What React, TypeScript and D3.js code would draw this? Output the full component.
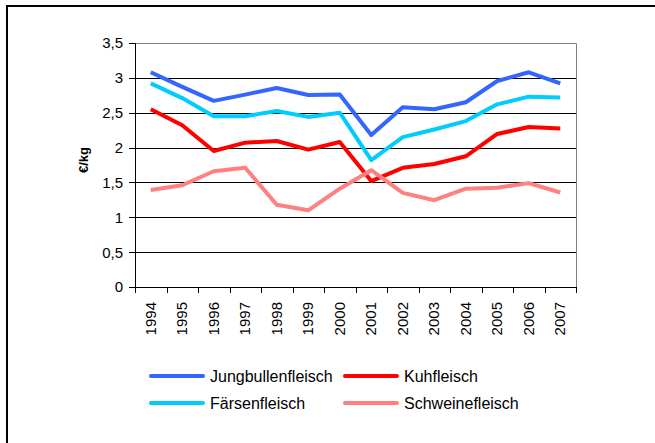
import React from 'react';
import * as d3 from 'd3';

const years = ['1994', '1995', '1996', '1997', '1998', '1999', '2000', '2001', '2002', '2003', '2004', '2005', '2006', '2007'];
const jungbullen = [3.08, 2.87, 2.67, 2.76, 2.855, 2.755, 2.76, 2.18, 2.58, 2.55, 2.65, 2.955, 3.08, 2.92];
const faersen = [2.92, 2.71, 2.45, 2.45, 2.525, 2.44, 2.5, 1.82, 2.15, 2.26, 2.38, 2.62, 2.73, 2.72];
const kuh = [2.55, 2.32, 1.95, 2.07, 2.095, 1.97, 2.08, 1.52, 1.71, 1.765, 1.875, 2.195, 2.295, 2.275];
const schwein = [1.39, 1.46, 1.66, 1.71, 1.18, 1.1, 1.41, 1.675, 1.35, 1.245, 1.41, 1.425, 1.49, 1.355];
const yTicks = [0, 0.5, 1, 1.5, 2, 2.5, 3, 3.5];

const series = [
  { name: 'Jungbullenfleisch', values: jungbullen, color: '#3366FF' },
  { name: 'Kuhfleisch', values: kuh, color: '#FF0000' },
  { name: 'Färsenfleisch', values: faersen, color: '#00CCFF' },
  { name: 'Schweinefleisch', values: schwein, color: '#FF8080' },
];

const W = 655, H = 443;
const left = 135, right = 576, top = 43, bottom = 287;
const font = 'Arial, "Liberation Sans", sans-serif';

const fmt = (v: number) => String(v).replace('.', ',');

export default function App() {
  const x = d3.scaleBand().domain(years).range([left, right]);
  const y = d3.scaleLinear().domain([0, 3.5]).range([bottom, top]);
  const line = d3.line<number>()
    .x((_, i) => (x(years[i]) as number) + x.bandwidth() / 2)
    .y(d => y(d));

  return (
    <svg width={W} height={H} style={{ position: 'absolute', left: 0, top: 0, background: '#fff' }} fontFamily={font}>
      <path d={`M7,${H} V6 H${W}`} fill="none" stroke="#000" strokeWidth={2} />

      {/* gridlines */}
      {yTicks.filter(t => t > 0 && t < 3.5).map(t => (
        <line key={t} x1={left} x2={right} y1={Math.round(y(t)) + 0.5} y2={Math.round(y(t)) + 0.5} stroke="#000" strokeWidth={1} />
      ))}
      {/* plot frame top/right */}
      <path d={`M${left},${top + 0.5} H${right + 0.5} V${bottom}`} fill="none" stroke="#808080" strokeWidth={1} />

      {/* y axis */}
      <line x1={left + 0.5} x2={left + 0.5} y1={top} y2={bottom} stroke="#000" />
      {yTicks.map(t => (
        <g key={t}>
          <line x1={left - 6} x2={left} y1={Math.round(y(t)) + 0.5} y2={Math.round(y(t)) + 0.5} stroke="#000" />
          <text x={123} y={y(t)} dy="0.36em" textAnchor="end" fontSize={15} fill="#000">{fmt(t)}</text>
        </g>
      ))}
      <text transform={`translate(88,160) rotate(-90)`} textAnchor="middle" fontSize={13} fontWeight="bold" fill="#000">€/kg</text>

      {/* x axis */}
      <line x1={left} x2={right + 1} y1={bottom + 0.5} y2={bottom + 0.5} stroke="#000" />
      {years.map(yr => (
        <line key={'t' + yr} x1={Math.round(x(yr) as number) + 0.5} x2={Math.round(x(yr) as number) + 0.5} y1={bottom} y2={bottom + 6} stroke="#000" />
      ))}
      <line x1={right + 0.5} x2={right + 0.5} y1={bottom} y2={bottom + 6} stroke="#000" />
      {years.map(yr => {
        const cx = (x(yr) as number) + x.bandwidth() / 2;
        return (
          <text key={yr} transform={`translate(${cx + 5},302) rotate(-90)`} textAnchor="end" fontSize={15} fill="#000">{yr}</text>
        );
      })}

      {/* lines */}
      {series.map(s => (
        <path key={s.name} d={line(s.values) as string} fill="none" stroke={s.color} strokeWidth={4} strokeLinejoin="round" />
      ))}

      {/* legend */}
      {series.map((s, i) => {
        const lx = i % 2 === 0 ? 151 : 345;
        const ly = i < 2 ? 376 : 403;
        return (
          <g key={'lg' + s.name}>
            <line x1={lx} x2={lx + 52} y1={ly} y2={ly} stroke={s.color} strokeWidth={4} strokeLinecap="round" />
            <text x={lx + 59} y={ly} dy="0.36em" fontSize={16} fill="#000">{s.name}</text>
          </g>
        );
      })}
    </svg>
  );
}
